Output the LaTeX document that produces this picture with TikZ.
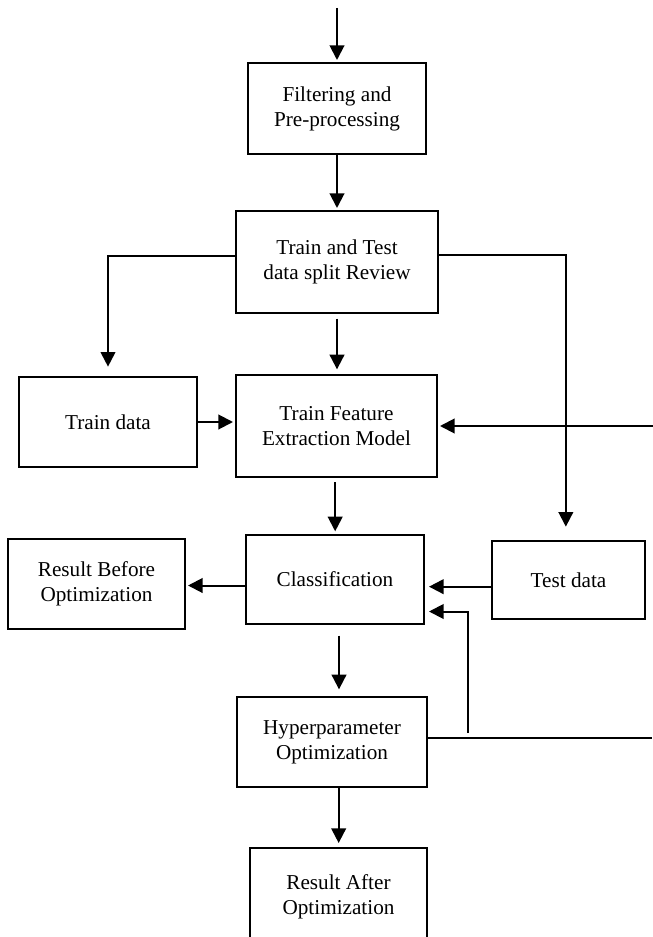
\documentclass[tikz,border=0pt]{standalone}
\usepackage{fontspec}
\setmainfont{Liberation Serif}
\usetikzlibrary{arrows.meta}
\tikzset{
  box/.style={draw, line width=1.5pt, align=center, inner sep=2pt, font=\fontsize{15.9}{18.8}\selectfont},
  sz/.style 2 args={minimum width=#1*0.75pt, minimum height=#2*0.75pt},
  arr/.style={-{Triangle[length=11pt,width=11pt]}, line width=1.5pt, shorten >=1.5pt}
}
\begin{document}
\begin{tikzpicture}[x=0.75pt, y=-0.75pt, line join=miter]
            \useasboundingbox (0,0) rectangle (652,937);
            \node[box, sz={178}{91}] (filt) at (337,108.5) {Filtering and\\Pre-processing};
            \node[box, sz={202}{102}] (split) at (337,262) {Train and Test\\data split Review};
            \node[box, sz={178}{90}] (trdata) at (108,422) {Train data};
            \node[box, sz={201}{102}] (feat) at (336.5,426) {Train Feature\\Extraction Model};
            \node[box, sz={178}{89}] (cls) at (335,579.5) {Classification};
            \node[box, sz={153}{78}] (tsdata) at (568.5,580) {Test data};
            \node[box, sz={177}{90}] (rbefore) at (96.5,584) {Result Before\\Optimization};
            \node[box, sz={190}{90}] (hyper) at (332,742) {Hyperparameter\\Optimization};
            \node[box, sz={177}{97}] (rafter) at (338.5,896.5) {Result After\\Optimization};
            \coordinate (start) at (337,8);
            \coordinate (rin) at (652,427);
            \coordinate (rout) at (652,738);
            \coordinate (fb) at (468,733);
            \draw[arr] (start) -- (filt);
            \draw[arr] (filt) -- (split);
            \draw[arr, shorten >=7pt] ([yshift=4.5pt]split.west) -| (trdata.north);
            \draw[arr, shorten >=10pt] ([yshift=5pt]split.east) -| ([xshift=-2pt]tsdata.north);
            \draw[arr, shorten <=3.5pt, shorten >=3.5pt] (split.south) -- (split.south |- feat.north);
            \draw[arr] (trdata.east) -- (trdata.east -| feat.west);
            \draw[arr] (rin) -- (feat.east -| rin) -- (feat.east);
            \draw[arr, shorten <=3pt, shorten >=2pt] ([xshift=-1pt]feat.south) -- ([xshift=-1pt]cls.north -| feat.south);
            \draw[arr] ([yshift=-4.5pt]cls.west) -- ([yshift=-4.5pt]cls.west -| rbefore.east);
            \draw[arr, shorten >=3pt] ([yshift=-5pt]tsdata.west) -- ([yshift=-5pt]tsdata.west -| cls.east);
            \draw[arr, shorten >=3pt] (fb) |- ([yshift=-24pt]cls.east);
            \draw[line width=1.5pt] ([yshift=3pt]hyper.east) -- ([yshift=3pt]hyper.east -| rout);
            \draw[arr, shorten <=8pt, shorten >=5pt] ([xshift=3pt]cls.south) -- ([xshift=3pt]cls.south |- hyper.north);
            \draw[arr, shorten >=3pt] ([xshift=5pt]hyper.south) -- ([xshift=5pt]hyper.south |- rafter.north);
\end{tikzpicture}
\end{document}
